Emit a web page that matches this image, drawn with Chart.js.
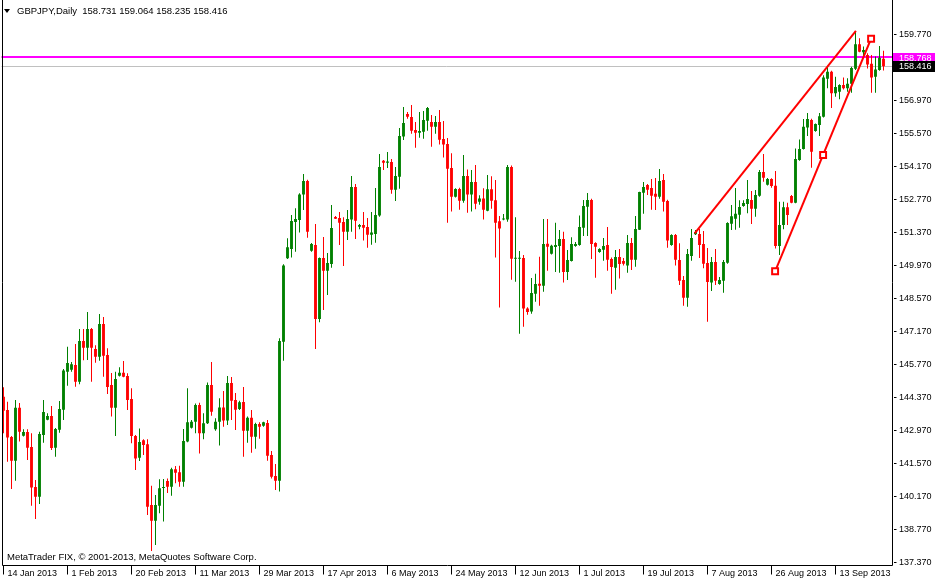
<!DOCTYPE html>
<html>
<head>
<meta charset="utf-8">
<script src="https://cdn.jsdelivr.net/npm/chart.js"></script>
<style>
  html, body { margin: 0; padding: 0; background: #fff; }
  #wrap { width: 935px; height: 583px; }
</style>
</head>
<body>
<div id="wrap"><canvas id="chart" width="935" height="583"></canvas></div>
<script>
// GBPJPY daily bars (broker feed with Sunday bars), 14 Jan 2013 .. end of Sep 2013
const opens = [144.40,143.84,142.70,141.69,143.94,142.75,142.91,142.27,140.58,140.16,
  142.78,143.43,143.59,142.24,143.00,143.85,145.46,145.55,145.75,145.04,
  146.76,146.48,147.27,146.43,146.10,147.49,146.17,144.90,143.94,145.29,
  145.42,145.28,144.31,142.74,141.82,142.56,142.39,139.81,139.15,139.78,
  140.53,140.83,140.59,141.33,141.20,140.80,142.50,143.09,143.34,144.05,
  142.85,143.28,144.90,143.02,143.34,143.95,143.39,144.98,144.26,143.88,
  144.18,142.96,143.51,142.71,143.25,143.17,143.29,141.93,141.04,140.84,
  146.73,150.27,150.66,151.81,151.89,152.97,153.55,150.59,150.83,147.70,
  150.28,149.74,150.03,152.02,151.98,151.81,151.40,151.91,153.29,151.61,
  151.68,151.60,151.27,151.30,152.08,154.41,154.32,154.35,153.18,153.73,
  155.43,156.39,156.26,155.71,155.59,155.64,156.10,156.05,155.85,156.05,
  155.33,155.12,154.10,152.88,153.21,152.71,153.76,152.97,153.50,152.67,
  152.81,152.29,153.20,152.73,151.84,151.91,151.91,154.14,150.25,150.25,
  150.28,148.14,148.01,148.77,149.19,149.11,150.89,150.46,150.75,150.79,
  151.09,149.69,150.16,150.79,150.83,151.57,152.46,152.74,150.92,150.54,
  150.63,150.83,150.24,149.87,150.33,150.16,149.96,150.92,150.21,151.48,
  153.05,153.38,153.25,153.01,152.88,153.59,152.70,150.83,151.26,150.20,
  149.35,148.60,150.37,151.29,151.30,150.88,150.07,149.24,150.11,149.18,
  149.32,150.08,151.74,151.95,152.12,152.49,152.57,152.74,152.37,152.92,
  153.93,153.39,153.63,153.35,150.79,151.68,152.43,152.91,152.63,154.44,
  154.90,155.82,156.13,155.67,155.92,156.27,157.88,158.18,157.27,157.33,
  157.62,157.48,157.67,158.31,159.34,159.00,158.89,158.52,157.97,158.25,
  158.731];
const highs = [144.80,144.19,142.74,144.26,144.14,143.02,143.02,142.85,140.87,142.92,
  144.26,143.70,144.01,143.08,144.22,145.58,146.52,145.87,146.64,147.27,
  147.27,147.99,147.32,146.58,147.91,147.78,146.46,145.41,145.46,145.65,
  145.92,145.40,144.76,142.78,143.06,142.60,142.60,140.63,140.24,140.90,
  140.91,140.94,141.39,141.47,141.48,143.03,144.76,143.42,144.12,144.15,
  143.70,145.01,145.87,143.49,144.34,144.64,145.28,145.24,144.56,144.23,
  144.81,143.56,143.84,143.30,143.32,143.34,143.42,142.10,141.55,146.88,
  150.02,151.12,152.11,152.39,153.03,153.84,153.60,150.92,151.72,150.30,
  151.17,150.50,152.53,152.06,152.23,152.01,152.32,153.76,153.42,151.72,
  152.23,151.98,152.23,153.25,154.69,154.44,154.78,154.48,154.14,155.79,
  156.68,156.47,156.77,156.05,156.47,156.51,156.68,156.35,156.30,156.56,
  156.09,155.37,154.72,153.24,153.26,154.65,154.04,154.01,154.23,152.94,
  153.24,153.80,153.75,153.59,152.06,152.15,154.23,154.20,152.01,150.58,
  150.41,148.20,149.44,149.62,150.34,151.94,151.94,150.85,151.78,151.47,
  151.40,150.62,151.16,150.96,152.08,152.74,153.04,152.80,150.95,150.70,
  151.13,151.60,150.30,150.62,150.66,150.28,151.26,151.13,152.06,153.09,
  153.50,153.42,153.63,153.67,154.06,153.84,152.75,151.29,151.30,150.91,
  149.52,150.66,151.51,151.47,151.51,151.43,150.71,150.33,150.66,149.48,
  150.20,151.80,152.53,153.25,152.73,152.73,153.59,153.12,153.17,154.01,
  154.69,153.67,153.66,153.97,152.67,152.67,152.63,152.95,154.93,155.31,
  156.18,156.43,156.19,155.99,156.43,158.03,158.39,158.22,157.97,157.65,
  157.93,157.90,158.39,159.91,159.60,159.25,158.96,158.89,158.82,159.27,
  159.064];
const lows = [142.85,141.65,140.49,140.84,142.50,142.72,141.72,139.78,139.22,139.85,
  142.45,143.40,142.14,141.86,142.88,143.42,144.87,145.46,144.83,144.93,
  145.95,145.96,145.04,145.84,145.93,145.25,144.52,143.56,142.74,145.26,
  145.23,143.84,142.43,141.30,141.68,141.93,139.39,137.86,138.12,139.46,
  139.11,140.32,140.21,140.73,140.59,140.59,142.47,143.06,142.85,142.00,
  142.60,143.25,143.60,142.96,142.33,143.13,143.20,143.42,142.99,143.84,
  141.86,142.45,142.03,142.20,142.62,143.13,141.69,140.94,140.45,140.38,
  145.93,150.24,150.30,150.55,151.36,152.32,151.14,150.55,146.43,147.56,
  148.08,148.71,149.87,151.94,150.83,149.94,151.05,151.40,151.09,151.50,
  151.02,150.72,150.85,150.93,152.03,154.01,154.10,153.01,152.70,153.22,
  155.29,156.19,155.55,154.96,155.38,155.34,155.68,155.00,155.55,155.09,
  154.54,151.78,152.25,152.85,152.33,152.63,152.20,152.25,152.35,152.54,
  151.91,152.26,152.37,150.30,148.18,151.88,151.82,149.36,149.28,147.07,
  147.37,147.88,147.92,148.43,148.26,148.85,149.74,150.43,149.69,149.66,
  149.24,149.35,150.13,150.76,150.80,151.22,151.22,150.24,149.45,150.51,
  150.17,149.74,148.77,148.94,149.41,149.96,149.66,149.77,149.91,151.47,
  152.16,152.95,152.33,152.32,152.80,152.25,150.72,150.80,149.96,149.14,
  148.26,148.22,150.17,151.26,150.28,149.85,147.58,148.88,149.14,149.15,
  148.81,150.04,151.47,151.48,151.57,152.46,152.18,151.72,152.03,152.88,
  153.52,153.36,153.26,150.69,150.41,151.50,151.68,152.60,152.60,154.41,
  154.88,155.45,154.11,155.64,155.45,156.24,157.48,156.64,157.12,157.01,
  157.43,157.33,157.29,158.25,159.00,158.85,158.32,157.29,157.29,158.22,
  158.235];
const closes = [143.81,142.67,141.69,143.94,142.92,142.91,142.24,140.55,140.16,142.82,
  143.75,143.59,142.23,143.03,143.88,145.51,145.83,145.78,145.04,146.76,
  146.48,147.27,146.48,146.10,147.49,146.14,144.81,143.94,145.15,145.42,
  145.25,144.26,142.74,141.78,142.48,142.36,139.74,139.15,139.81,140.52,
  140.55,140.59,141.33,141.18,140.80,142.53,143.32,143.34,144.05,142.85,
  143.28,144.90,143.77,143.34,143.95,143.39,144.98,144.23,143.85,144.17,
  142.96,143.51,142.71,143.25,143.13,143.32,141.90,141.01,140.84,146.76,
  149.97,150.74,151.85,151.94,152.98,153.55,151.40,150.88,147.70,150.28,
  149.74,150.07,151.55,151.95,151.78,151.40,151.94,153.29,151.86,151.68,
  151.57,151.27,151.36,152.11,154.14,154.32,154.37,153.18,153.76,155.45,
  156.01,156.27,155.68,155.59,155.67,156.13,156.64,155.85,156.05,155.30,
  155.09,154.07,152.88,153.21,152.71,153.76,152.97,153.50,152.58,152.81,
  152.33,153.20,152.71,151.78,151.53,151.95,154.14,150.25,150.28,150.28,
  148.14,147.99,148.80,149.18,149.11,150.88,150.76,150.80,150.83,151.09,
  149.69,150.20,150.88,150.88,151.60,152.49,152.74,150.88,150.76,150.66,
  150.79,150.21,149.90,150.33,150.03,150.04,150.92,150.21,151.51,153.08,
  153.29,153.18,152.92,152.88,153.55,152.67,151.02,151.26,150.21,149.32,
  148.60,150.45,151.13,151.39,150.83,150.04,149.27,150.11,149.32,149.35,
  150.11,151.77,152.05,152.16,152.45,152.61,152.78,152.37,152.95,153.93,
  153.69,153.63,153.34,150.79,151.68,152.43,152.11,152.63,154.48,154.90,
  155.85,156.18,154.79,155.96,156.29,157.93,158.18,157.27,157.53,157.62,
  157.48,157.67,158.34,159.34,159.03,159.10,158.49,157.94,158.27,158.77,
  158.416];

// bottom axis: one date every 16 bars
const dateLabels = ['14 Jan 2013','1 Feb 2013','20 Feb 2013','11 Mar 2013','29 Mar 2013',
  '17 Apr 2013','6 May 2013','24 May 2013','12 Jun 2013','1 Jul 2013','19 Jul 2013',
  '7 Aug 2013','26 Aug 2013','13 Sep 2013'];
const barsPerLabel = 16;
const slotCount = 223;            // 221 bars + chart shift on the right
const priceTicks = [137.37,138.77,140.17,141.57,142.97,144.37,145.77,147.17,148.57,
  149.97,151.37,152.77,154.17,155.57,156.97,158.37,159.77];

// trend lines: [bar index, price]
const trendUpper = [[172.8, 151.33], [213.1, 159.91]];
const trendLower = [[192.9, 149.72], [204.9, 154.65], [216.9, 159.58]];
const levelLine = 158.768;
const bidLine = 158.416;
const header = 'GBPJPY,Daily  158.731 159.064 158.235 158.416';
const copyright = 'MetaTrader FIX, \u00a9 2001-2013, MetaQuotes Software Corp.';

const FONT = "'Liberation Sans', Arial, sans-serif";
const UP = '#008000', DOWN = '#ff0000';

const slots = [];
for (let i = 0; i < slotCount; i++) {
  slots.push(i % barsPerLabel === 0 && dateLabels[i / barsPerLabel] ? dateLabels[i / barsPerLabel] : '');
}
const candleColors = opens.map((o, i) => closes[i] >= o ? UP : DOWN);
const bodies = opens.map((o, i) => [o, closes[i]]);
const wicks = lows.map((l, i) => [l, highs[i]]);

const mtDecor = {
  id: 'mtDecor',
  beforeDraw(chart) {
    const c = chart.ctx;
    c.save();
    c.fillStyle = '#fff';
    c.fillRect(0, 0, chart.width, chart.height);
    c.restore();
  },
  beforeDatasetsDraw(chart) {
    const { ctx: c, chartArea: a, scales: { y } } = chart;
    c.save();
    const yb = Math.round(y.getPixelForValue(bidLine)) + 0.5;
    c.strokeStyle = '#c0c0c0';
    c.lineWidth = 1;
    c.beginPath(); c.moveTo(a.left, yb); c.lineTo(892, yb); c.stroke();
    const ym = Math.floor(y.getPixelForValue(levelLine));
    c.strokeStyle = '#ff00ff';
    c.lineWidth = 2;
    c.beginPath(); c.moveTo(a.left, ym); c.lineTo(892, ym); c.stroke();
    c.restore();
  },
  afterDraw(chart) {
    const { ctx: c, scales: { y } } = chart;
    c.save();
    // frame
    c.strokeStyle = '#000';
    c.lineWidth = 1;
    c.beginPath();
    c.moveTo(2.5, 0); c.lineTo(2.5, 565.5); c.lineTo(892.5, 565.5); c.lineTo(892.5, 0);
    c.stroke();

    // header + copyright
    c.fillStyle = '#000';
    c.beginPath(); c.moveTo(4, 9); c.lineTo(10, 9); c.lineTo(7, 13); c.closePath(); c.fill();
    c.font = '9.5px ' + FONT;
    c.textBaseline = 'middle';
    c.textAlign = 'left';
    c.fillText(header, 17, 11.5);
    c.fillText(copyright, 7, 557.5);

    // price tags on the right scale
    c.font = '9px ' + FONT;
    const tag = (v, bg, txt) => {
      const py = Math.round(y.getPixelForValue(v));
      c.fillStyle = bg;
      c.fillRect(893, py - 5, 42, 11);
      c.fillStyle = txt;
      c.fillText(v.toFixed(3), 899, py + 0.5);
    };
    tag(levelLine, '#ff00ff', '#fff');
    tag(bidLine, '#000', '#fff');
    c.restore();
  }
};

new Chart(document.getElementById('chart'), {
  type: 'bar',
  data: {
    labels: slots,
    datasets: [
      {
        type: 'line', xAxisID: 'xl', order: 0,
        data: trendLower.map(p => ({ x: p[0], y: p[1] })),
        borderColor: DOWN, borderWidth: 2,
        pointStyle: 'rect', pointRadius: 4.2, pointBorderWidth: 2,
        pointBackgroundColor: '#fff', pointBorderColor: DOWN
      },
      {
        type: 'line', xAxisID: 'xl', order: 1,
        data: trendUpper.map(p => ({ x: p[0], y: p[1] })),
        borderColor: DOWN, borderWidth: 2, pointRadius: 0
      },
      {
        data: bodies, order: 2, grouped: false,
        backgroundColor: candleColors, maxBarThickness: 3,
        minBarLength: 1, borderWidth: 0, inflateAmount: 0
      },
      {
        data: wicks, order: 3, grouped: false,
        backgroundColor: candleColors, maxBarThickness: 1,
        minBarLength: 1, borderWidth: 0, inflateAmount: 0
      }
    ]
  },
  options: {
    responsive: false,
    animation: false,
    devicePixelRatio: 1,
    layout: { autoPadding: false, padding: { left: 1.5, top: 0, right: 0, bottom: 0 } },
    plugins: { legend: { display: false }, tooltip: { enabled: false } },
    scales: {
      x: {
        type: 'category',
        offset: true,
        border: { display: false },
        grid: {
          display: true, drawOnChartArea: false, offset: false, tickLength: 9,
          color: ctx => slots[ctx.index] ? '#000' : 'rgba(0,0,0,0)'
        },
        ticks: {
          autoSkip: false, maxRotation: 0, minRotation: 0,
          align: 'start', labelOffset: 4, padding: -6,
          color: '#000', font: { family: FONT, size: 9 }
        },
        afterFit(s) {
          s.height = 17.5;
          s.paddingLeft = 0; s.paddingRight = 0;
        }
      },
      xl: {
        type: 'linear', display: false, offset: false,
        min: -0.5, max: slotCount - 0.5
      },
      y: {
        position: 'right',
        min: 137.248, max: 161.22,
        border: { display: false },
        grid: { display: true, drawOnChartArea: false, tickLength: 3, color: '#000' },
        afterBuildTicks(s) { s.ticks = priceTicks.map(v => ({ value: v })); },
        ticks: {
          color: '#000', font: { family: FONT, size: 9 }, padding: 2.5,
          crossAlign: 'near',
          callback: v => v.toFixed(3)
        },
        afterFit(s) {
          s.width = 41.5;
          s.paddingTop = 0; s.paddingBottom = 0;
        }
      }
    }
  },
  plugins: [mtDecor]
});
</script>
</body>
</html>
